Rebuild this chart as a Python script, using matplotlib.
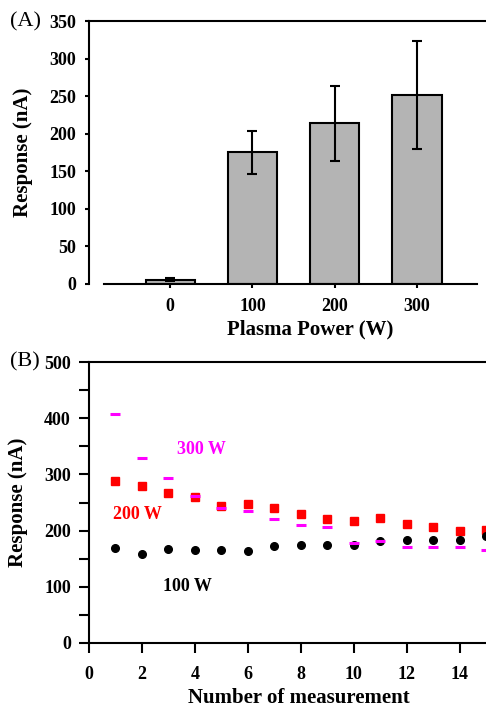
import matplotlib
matplotlib.use("Agg")
from matplotlib import pyplot as plt
from matplotlib.ticker import MultipleLocator

plt.rcParams['font.family'] = ['Liberation Serif', 'DejaVu Serif']
plt.rcParams['font.weight'] = 'bold'

# panel A data
powers = ['0', '100', '200', '300']
resp_mean = [5, 175, 214, 251]
resp_err = [2, 29, 50, 72]

# panel B data
meas = list(range(1, 16))
w100 = [169, 159, 167, 165, 165, 163, 172, 174, 174, 174, 181, 183, 183, 183, 190]
w200 = [288, 279, 267, 259, 243, 248, 241, 230, 221, 217, 223, 212, 206, 199, 201]
w300 = [408, 330, 294, 262, 240, 235, 221, 210, 206, 178, 181, 171, 171, 171, 165]

fig = plt.figure(figsize=(4.86, 7.10), dpi=100)
ax1 = fig.add_axes([0.1831, 0.6004, 0.8169, 0.3700])
ax2 = fig.add_axes([0.1831, 0.0948, 0.8169, 0.3949])

# (A) bar chart
xpos = range(len(powers))
ax1.bar(xpos, resp_mean, width=0.6, color='#b4b4b4', edgecolor='black', linewidth=1.5, zorder=2)
ax1.errorbar(xpos, resp_mean, yerr=resp_err, fmt='none', ecolor='black', elinewidth=1.5,
             capsize=3.6, capthick=1.5, zorder=3)
ax1.set_xlim(-0.988, 3.84)
ax1.set_ylim(0, 350)
ax1.set_xticks(list(xpos))
ax1.set_xticklabels(powers)
ax1.yaxis.set_major_locator(MultipleLocator(50))
ax1.spines['right'].set_visible(False)
ax1.spines['bottom'].set_bounds(-0.8, 3.73)
for s in ['left', 'top', 'bottom']:
    ax1.spines[s].set_linewidth(1.5)
ax1.tick_params(direction='out', length=3, width=1.5, labelsize=13)
ax1.tick_params(axis='y', pad=6)
ax1.tick_params(axis='x', pad=7)
ax1.set_ylabel('Response (nA)', fontsize=15, fontweight='bold')
ax1.set_xlabel('Plasma Power (W)', fontsize=15, fontweight='bold')
ax1.yaxis.set_label_coords(-0.141, 0.5)
ax1.xaxis.set_label_coords(0.557, -0.138)
fig.text(0.02, 0.969, '(A)', fontsize=16, fontweight='normal', va='center', ha='left')

# (B) repeated measurements
ax2.plot(meas, w300, linestyle='none', marker='_', markersize=7.5, markeredgewidth=2.2,
         color='#ff00ff', zorder=3)
ax2.plot(meas, w200, linestyle='none', marker='s', markersize=5.5, color='#ff0000', zorder=2)
ax2.plot(meas, w100, linestyle='none', marker='o', markersize=5.5, color='black', zorder=2)
ax2.text(3.32, 345, '300 W', color='#ff00ff', fontsize=13, fontweight='bold', va='center')
ax2.text(0.91, 229, '200 W', color='#ff0000', fontsize=13, fontweight='bold', va='center')
ax2.text(2.79, 101, '100 W', color='black', fontsize=13, fontweight='bold', va='center')
ax2.set_xlim(0, 15)
ax2.set_ylim(0, 500)
ax2.xaxis.set_major_locator(MultipleLocator(2))
ax2.yaxis.set_major_locator(MultipleLocator(100))
ax2.yaxis.set_minor_locator(MultipleLocator(50))
ax2.spines['right'].set_visible(False)
for s in ['left', 'top', 'bottom']:
    ax2.spines[s].set_linewidth(1.5)
ax2.tick_params(which='both', direction='out', length=7, width=1.5, labelsize=13)
ax2.tick_params(axis='y', pad=6)
ax2.tick_params(axis='x', pad=10)
ax2.set_ylabel('Response (nA)', fontsize=15, fontweight='bold')
ax2.set_xlabel('Number of measurement', fontsize=15, fontweight='bold')
ax2.yaxis.set_label_coords(-0.154, 0.5)
ax2.xaxis.set_label_coords(0.529, -0.160)
fig.text(0.02, 0.490, '(B)', fontsize=16, fontweight='normal', va='center', ha='left')

fig.savefig('out.png', dpi=100)
